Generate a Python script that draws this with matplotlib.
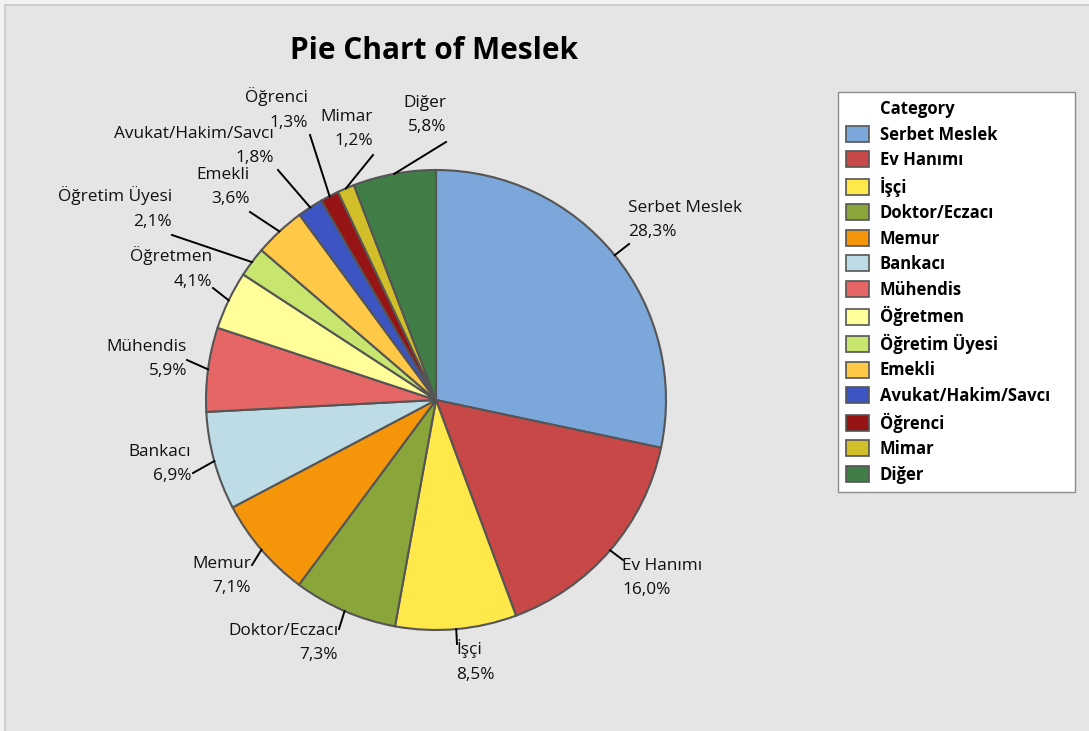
import numpy as np
import matplotlib
matplotlib.use("Agg")
import matplotlib.pyplot as plt
from matplotlib.patches import Rectangle, Patch

plt.rcParams['font.family'] = ['Open Sans', 'DejaVu Sans']

# Meslek distribution (%)
categories = ['Serbet Meslek', 'Ev Hanımı', 'İşçi', 'Doktor/Eczacı', 'Memur', 'Bankacı',
              'Mühendis', 'Öğretmen', 'Öğretim Üyesi', 'Emekli', 'Avukat/Hakim/Savcı',
              'Öğrenci', 'Mimar', 'Diğer']
percents = [28.3, 16.0, 8.5, 7.3, 7.1, 6.9, 5.9, 4.1, 2.1, 3.6, 1.8, 1.3, 1.2, 5.8]
colors = ['#7ba7da', '#c84848', '#ffe84a', '#8aa63a', '#f5960a', '#bedce6', '#e66666',
          '#ffff99', '#c8e66e', '#ffc846', '#3c55c3', '#961414', '#d2be28', '#417d46']

# label layout in pixels (y from top): leader end, text anchor, alignment
leader_end = [(629, 244), (623, 560), (457, 644), (339, 629), (252, 565), (193, 473),
              (187, 360), (213, 288), (172, 235), (250, 212), (278, 170), (310, 135),
              (373, 155), (446, 142)]
text_pos = [(628, 220), (622, 578), (456, 661), (338, 643), (251, 576), (191, 464),
            (187, 359), (212, 268), (172, 208), (250, 187), (274, 146), (308, 109),
            (373, 129), (446, 115)]
text_ha = ['left', 'left', 'left', 'right', 'right', 'right', 'right', 'right', 'right',
           'right', 'right', 'right', 'right', 'right']

W, H = 1089, 731
fig = plt.figure(figsize=(W / 100, H / 100), dpi=100, facecolor='#f2f2f2')
ax = fig.add_axes([0, 0, 1, 1])

# outer panel
ax.add_patch(Rectangle((5, -10), W, H - 5 + 10, facecolor='#e5e5e5', edgecolor='#c8c8c8',
                       linewidth=1.2, zorder=0))

cx, cy, R = 436, H - 400, 230
wedges, _ = ax.pie(percents, colors=colors, radius=R, center=(cx, cy), startangle=90,
                   counterclock=False, frame=True,
                   wedgeprops=dict(edgecolor='#555555', linewidth=1.5))

for w, name, p, end, tp, ha in zip(wedges, categories, percents, leader_end, text_pos, text_ha):
    mid = np.deg2rad((w.theta1 + w.theta2) / 2)
    x0, y0 = cx + R * np.cos(mid), cy + R * np.sin(mid)
    ax.plot([x0, end[0]], [y0, H - end[1]], color='black', linewidth=1.4, zorder=3)
    label = f"{name}\n{p:.1f}%".replace('.', ',')
    ax.text(tp[0], H - tp[1], label, ha=ha, va='center', multialignment=ha,
            fontsize=12.4, linespacing=1.68, color='#111111')

ax.text(434, H - 51, 'Pie Chart of Meslek', ha='center', va='center', fontsize=21.5,
        fontweight='bold', color='black')

handles = [Patch(facecolor='none', edgecolor='none')] + \
          [Patch(facecolor=c, edgecolor='#555555', linewidth=1.2) for c in colors]
labels = ['Category'] + categories
leg = ax.legend(handles, labels, loc='upper left',
                bbox_to_anchor=(838 / W, 1 - 492 / H, 237 / W, 400 / H), mode='expand',
                bbox_transform=fig.transFigure, frameon=True, fancybox=False,
                edgecolor='#8c8c8c', facecolor='white', framealpha=1,
                prop=dict(weight='bold', size=12.0), handlelength=1.4, handleheight=1.1,
                handletextpad=0.62, labelspacing=0.45, borderpad=0.48, borderaxespad=0)
leg.get_frame().set_linewidth(1.0)

ax.set_xlim(0, W)
ax.set_ylim(0, H)
ax.axis('off')

fig.savefig('out.png', dpi=100, facecolor=fig.get_facecolor())
